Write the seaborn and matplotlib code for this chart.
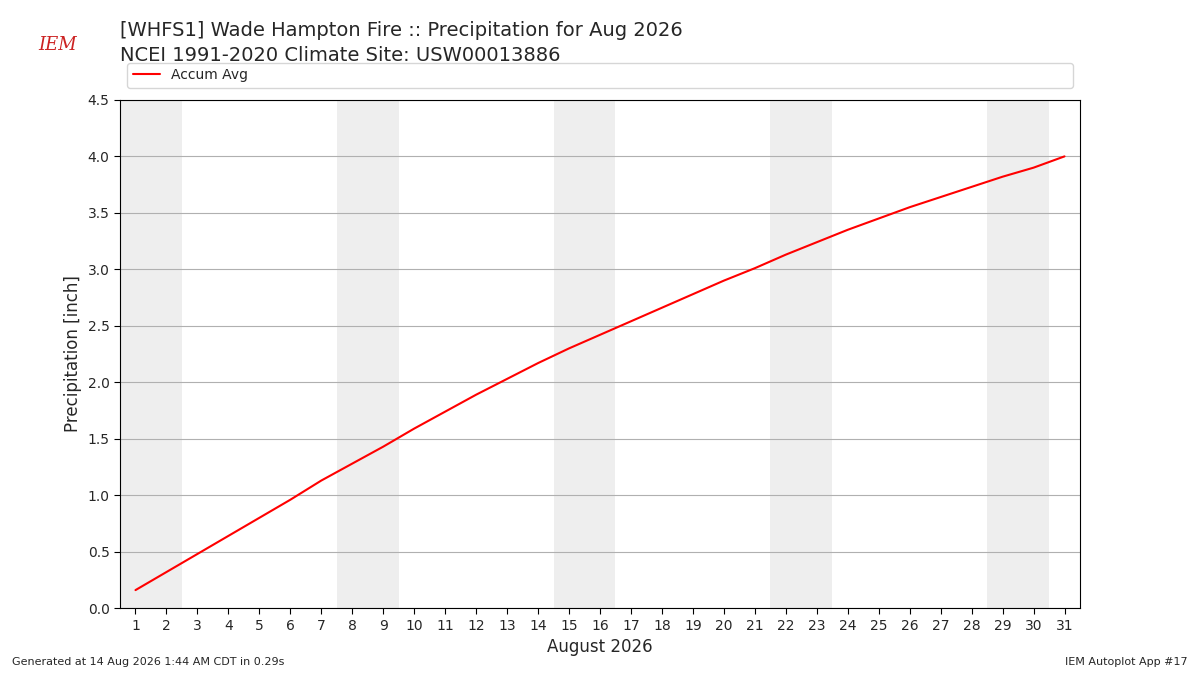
import matplotlib
matplotlib.use("Agg")
import matplotlib.pyplot as plt
import seaborn as sns
import pandas as pd

days = list(range(1, 32))
accum_avg = [0.16, 0.32, 0.48, 0.64, 0.80, 0.96, 1.13, 1.28, 1.43, 1.59, 1.74, 1.89,
             2.03, 2.17, 2.30, 2.42, 2.54, 2.66, 2.78, 2.90, 3.01, 3.13, 3.24, 3.35,
             3.45, 3.55, 3.64, 3.73, 3.82, 3.90, 4.00]
weekend_starts = [1, 8, 15, 22, 29]

sns.set_style("white")
plt.rcParams['font.family'] = ['DejaVu Sans']
fig = plt.figure(figsize=(12, 6.75), dpi=100)
ax = fig.add_axes([0.1, 0.099, 0.8, 0.753])
for s in weekend_starts:
    ax.axvspan(s - 0.5, s + 1.5, color="#eeeeee", zorder=0, lw=0)
df = pd.DataFrame({"day": days, "val": accum_avg})
sns.lineplot(data=df, x="day", y="val", color="red", ax=ax, label="Accum Avg", zorder=3)
ax.set_xlim(0.5, 31.5)
ax.set_ylim(0, 4.5)
ax.set_xticks(days)
ax.set_yticks([i * 0.5 for i in range(10)])
ax.yaxis.grid(True, color="#b0b0b0", lw=0.8)
ax.set_axisbelow(True)
for sp in ax.spines.values():
    sp.set_color("black"); sp.set_linewidth(0.8)
ax.tick_params(axis="both", direction="out", length=4, color="black", labelsize=10, left=True, bottom=True)
ax.set_xlabel("August 2026", fontsize=12)
ax.set_ylabel("Precipitation [inch]", fontsize=12)
ax.legend(loc="lower left", bbox_to_anchor=(0, 1.01, 1, 0.05), mode="expand", frameon=True, fontsize=10)
fig.text(0.1, 0.955, "[WHFS1] Wade Hampton Fire :: Precipitation for Aug 2026", fontsize=14, va="center")
fig.text(0.1, 0.918, "NCEI 1991-2020 Climate Site: USW00013886", fontsize=14, va="center")
fig.text(0.032, 0.933, "IEM", fontsize=13, color="#cc2222", style="italic", family="DejaVu Serif", va="center")
fig.text(0.01, 0.015, "Generated at 14 Aug 2026 1:44 AM CDT in 0.29s", fontsize=8)
fig.text(0.99, 0.015, "IEM Autoplot App #17", fontsize=8, ha="right")
fig.savefig("out.png", dpi=100)
